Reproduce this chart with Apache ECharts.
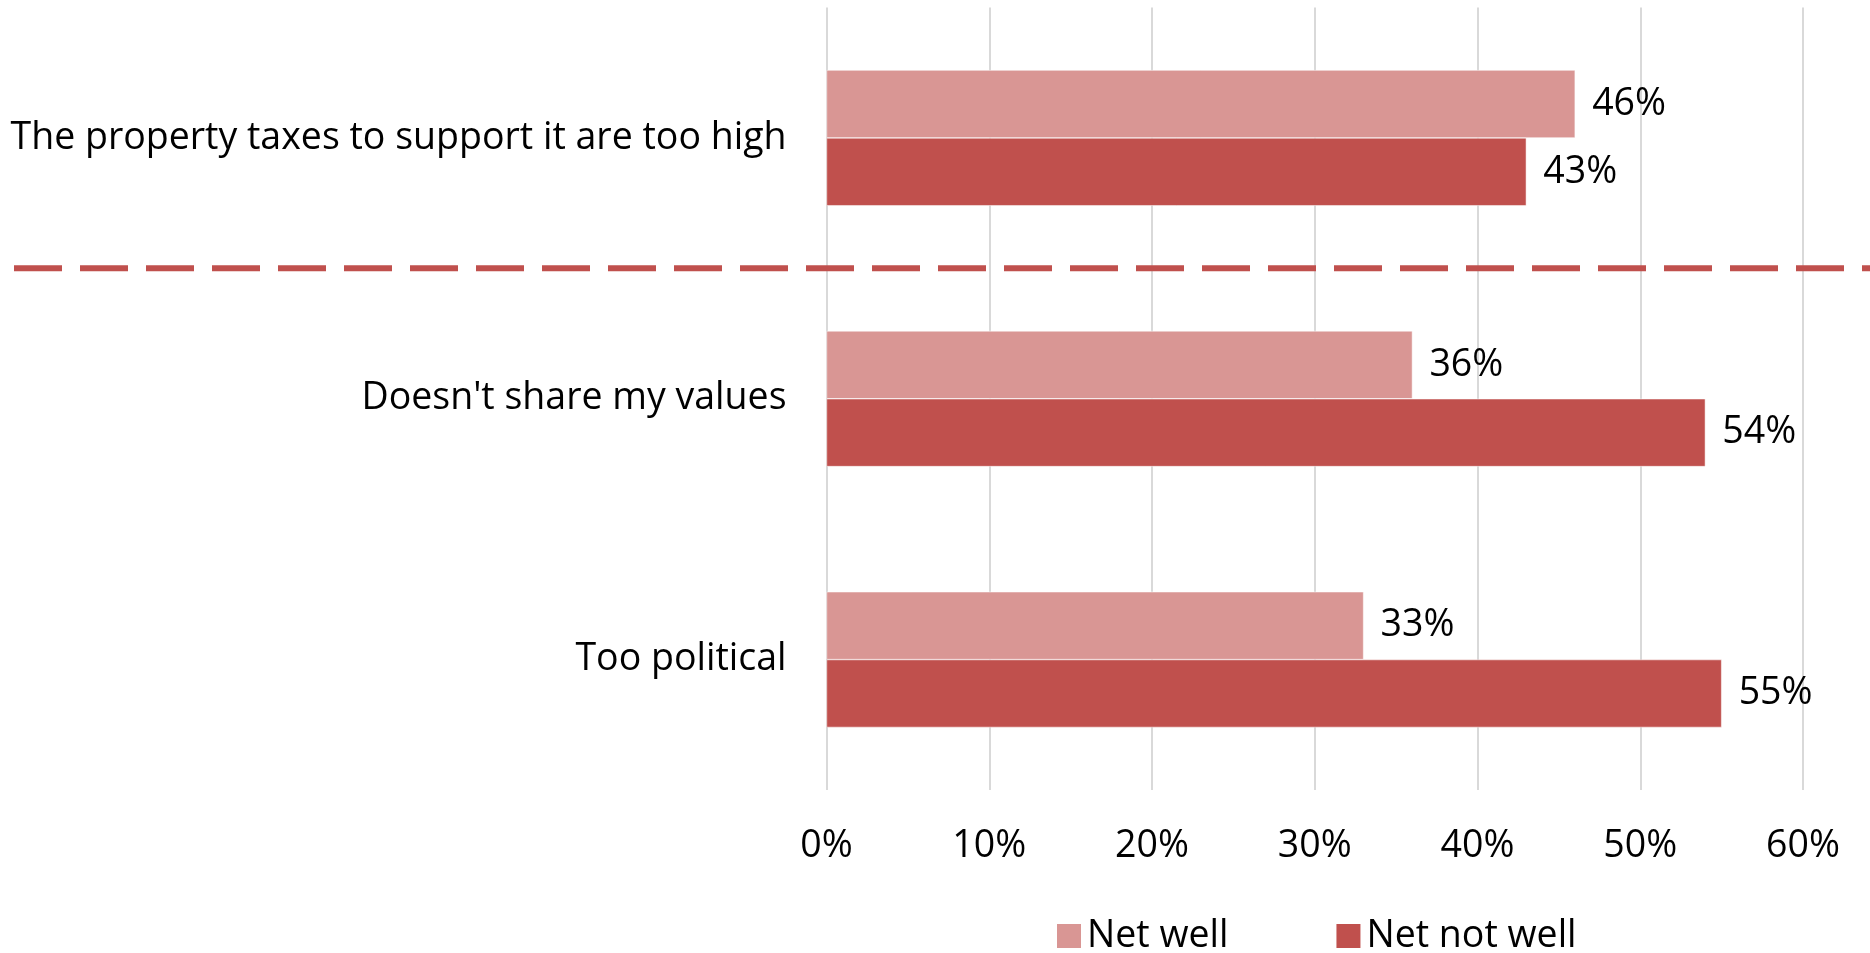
<!DOCTYPE html>
<html>
<head>
<meta charset="utf-8">
<style>
html, body { margin: 0; padding: 0; background: #fff; }
#chart { width: 1870px; height: 953px; }
</style>
<script src="https://cdn.jsdelivr.net/npm/echarts@6/dist/echarts.min.js"></script>
</head>
<body>
<div id="chart"></div>
<script>
var categories = ['The property taxes to support it are too high', "Doesn't share my values", 'Too political'];
var netWell = [46, 36, 33];
var netNotWell = [43, 54, 55];
var seriesNames = ['Net well', 'Net not well'];

var font = 'Open Sans';
var fs = 37.5;

var labelOpt = {
    show: true,
    position: 'right',
    distance: 17,
    formatter: '{c}%',
    fontFamily: font,
    fontSize: fs,
    color: '#000'
};

var option = {
    animation: false,
    backgroundColor: '#fff',
    textStyle: { fontFamily: font },
    grid: {
        left: 826.5,
        right: 67,
        top: 7.5,
        bottom: 163
    },
    legend: {
        data: seriesNames,
        left: 1050,
        top: 912,
        icon: 'rect',
        itemWidth: 26,
        itemHeight: 26,
        itemGap: 106,
        textStyle: { fontFamily: font, fontSize: fs, color: '#000' }
    },
    xAxis: {
        type: 'value',
        min: 0,
        max: 60,
        interval: 10,
        axisLine: { show: false },
        axisTick: { show: false },
        splitLine: { lineStyle: { color: '#d9d9d9', width: 2 } },
        axisLabel: {
            formatter: '{value}%',
            margin: 37,
            fontFamily: font,
            fontSize: fs,
            color: '#000'
        }
    },
    yAxis: {
        type: 'category',
        data: categories,
        inverse: true,
        axisLine: { show: false },
        axisTick: { show: false },
        axisLabel: {
            margin: 40,
            fontFamily: font,
            fontSize: fs,
            color: '#000'
        }
    },
    series: [{
        name: seriesNames[0],
        type: 'bar',
        data: netWell,
        barGap: '0%',
        barCategoryGap: '48%',
        itemStyle: { color: '#d99694', borderColor: '#fff', borderWidth: 0.5 },
        label: labelOpt
    }, {
        name: seriesNames[1],
        type: 'bar',
        data: netNotWell,
        itemStyle: { color: '#c0504d', borderColor: '#fff', borderWidth: 0.5 },
        label: labelOpt
    }]
};

var myChart = echarts.init(document.getElementById('chart'));
myChart.setOption(option);

// dashed divider between the first and second category, placed from the axis scale
var y0 = myChart.convertToPixel({ yAxisIndex: 0 }, categories[0]);
var y1 = myChart.convertToPixel({ yAxisIndex: 0 }, categories[1]);
var yMid = (y0 + y1) / 2;
myChart.setOption({
    graphic: [{
        type: 'line',
        shape: { x1: 14, y1: yMid, x2: 1870, y2: yMid },
        style: { stroke: '#c0504d', lineWidth: 6, lineDash: [48, 18] },
        z: 10
    }]
});
</script>
</body>
</html>
